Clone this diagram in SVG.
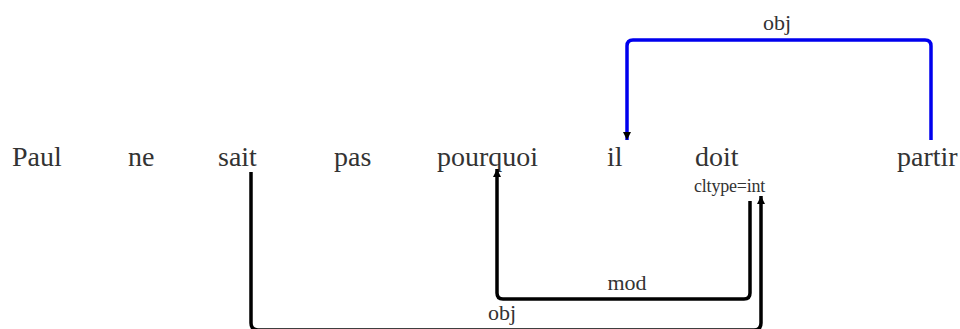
<svg xmlns="http://www.w3.org/2000/svg" width="960" height="329" viewBox="0 0 960 329">
<style>
.w{font-family:"Liberation Serif","Times New Roman",serif;font-size:28px;fill:#333}
.f{font-family:"Liberation Serif","Times New Roman",serif;font-size:18px;fill:#333;letter-spacing:-0.2px}
.l{font-family:"Liberation Serif","Times New Roman",serif;font-size:22px;fill:#333;text-anchor:middle}
.e{fill:none;stroke:#000;stroke-width:3.5}
.b{stroke:#0000ee}
</style>
<defs>
<marker id="ak" markerUnits="userSpaceOnUse" markerWidth="9" markerHeight="9" refX="8" refY="4.5" orient="auto"><path d="M0,0.5 L8,4.5 L0,8.5 z" fill="#000"/></marker>
</defs>
<g id="n-paul"><text class="w" x="12" y="166">Paul</text></g>
<g id="n-ne"><text class="w" x="128" y="166">ne</text></g>
<g id="n-sait"><text class="w" x="218" y="166">sait</text></g>
<g id="n-pas"><text class="w" x="334" y="166">pas</text></g>
<g id="n-pourquoi"><text class="w" x="437" y="166">pourquoi</text></g>
<g id="n-il"><text class="w" x="607" y="166">il</text></g>
<g id="n-doit"><text class="w" x="695" y="166">doit</text><text class="f" x="694" y="192">cltype=int</text></g>
<g id="n-partir"><text class="w" x="897" y="166">partir</text></g>
<g id="edges">
<path class="e b" d="M931,140 V46 Q931,40 925,40 H633 Q627,40 627,46 V140" marker-end="url(#ak)"/>
<text class="l" x="777" y="30">obj</text>
<path class="e" d="M750,201 V293 Q750,299 744,299 H503 Q497,299 497,293 V169" marker-end="url(#ak)"/>
<text class="l" x="627" y="290">mod</text>
<path class="e" d="M251,172 V323 Q251,330 258,330 H754 Q761,330 761,323 V196" marker-end="url(#ak)"/>
<text class="l" x="502" y="320">obj</text>
</g>
</svg>
